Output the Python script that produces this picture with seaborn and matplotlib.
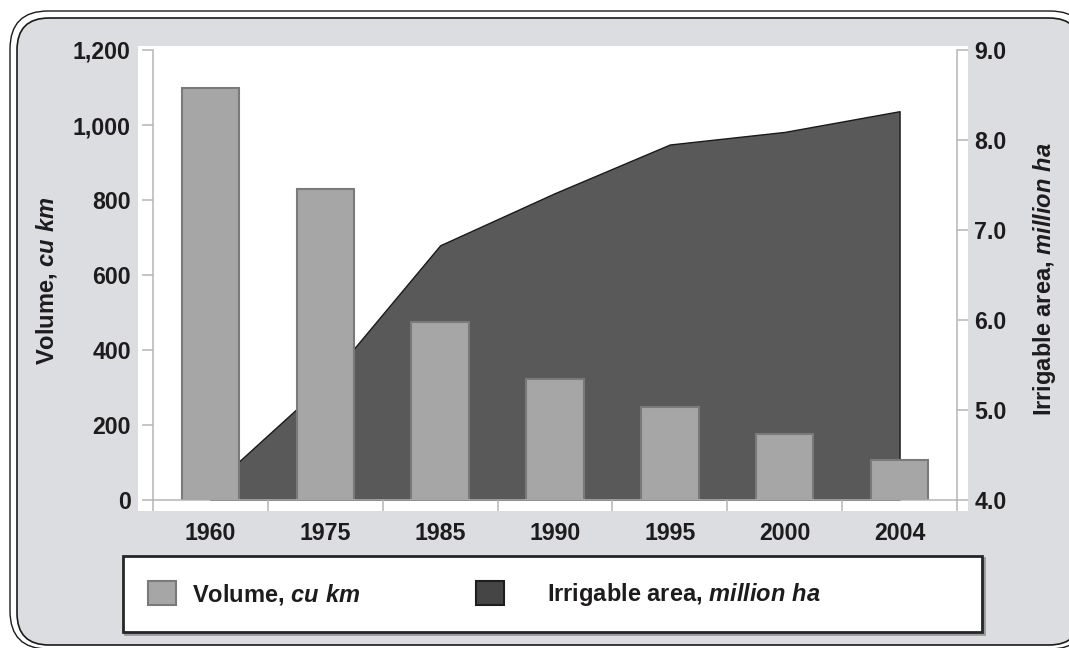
import numpy as np
import pandas as pd
import matplotlib
matplotlib.use("Agg")
import matplotlib.pyplot as plt
import seaborn as sns
from matplotlib.patches import FancyBboxPatch, Rectangle, Patch
from matplotlib.transforms import IdentityTransform
from matplotlib.ticker import FuncFormatter

# ---- data ----
years = ["1960", "1975", "1985", "1990", "1995", "2000", "2004"]
volume_cu_km = [1100, 830, 475, 323, 248, 175, 107]
irrigable_area_mha = [4.14, 5.30, 6.83, 7.41, 7.95, 8.09, 8.32]
left_ticks = [0, 200, 400, 600, 800, 1000, 1200]
right_ticks = [4.0, 5.0, 6.0, 7.0, 8.0, 9.0]
left_label = r"Volume, $\mathit{cu\ km}$"
right_label = r"Irrigable area, $\mathit{million\ ha}$"

# ---- style ----
sns.set_theme(style="white")
plt.rcParams["font.family"] = ["Liberation Sans", "DejaVu Sans"]
plt.rcParams["font.weight"] = "bold"
plt.rcParams["mathtext.fontset"] = "custom"
plt.rcParams["mathtext.it"] = "Liberation Sans:italic:bold"
plt.rcParams["mathtext.rm"] = "Liberation Sans:bold"
plt.rcParams["mathtext.bf"] = "Liberation Sans:bold"

TXT = "#1e1b1c"
GRID = "#b5b5b5"
BAR = "#a6a6a6"
BAR_EDGE = "#7a7a7a"
AREA = "#595959"
BG = "#dcdde0"
FS_TICK = 16.7
FS_LAB = 17

W, H, DPI = 1069, 648, 100
fig = plt.figure(figsize=(W / DPI, H / DPI), dpi=DPI, facecolor="white")

# rounded double frame (pixel coords, origin bottom-left); right side runs off the image
outer = FancyBboxPatch((10, -1), 1078, 638, boxstyle="round,pad=0,rounding_size=38",
                       transform=IdentityTransform(), facecolor="white",
                       edgecolor="#1a1a1a", linewidth=1.0, zorder=-20)
inner = FancyBboxPatch((17, 3), 1064, 627, boxstyle="round,pad=0,rounding_size=32",
                       transform=IdentityTransform(), facecolor=BG,
                       edgecolor="#1a1a1a", linewidth=1.2, zorder=-19)
plotbg = Rectangle((138, H - 511), 830, 465, transform=IdentityTransform(),
                   facecolor="white", edgecolor="none", zorder=-18)
legshadow = Rectangle((125, H - 634), 859, 76, transform=IdentityTransform(),
                      facecolor="none", edgecolor="#9a9a9a", linewidth=2.0, zorder=3)
legbox = Rectangle((123, H - 632), 859, 76, transform=IdentityTransform(),
                   facecolor="white", edgecolor="#262626", linewidth=2.0, zorder=4)
fig.patches.extend([outer, inner, plotbg, legshadow, legbox])

ax = fig.add_axes([153 / W, 1 - 500 / H, (957 - 153) / W, 450 / H])
ax2 = ax.twinx()

df = pd.DataFrame({"year": years, "volume": volume_cu_km, "area": irrigable_area_mha})
xpos = np.arange(len(years))

# area (right axis), drawn behind bars
ax2.fill_between(xpos, 4.0, df["area"], facecolor=AREA, edgecolor="#1a1a1a", linewidth=1.0)
ax2.set_ylim(4.0, 9.0)
ax2.set_yticks(right_ticks)
ax2.yaxis.set_major_formatter(FuncFormatter(lambda v, p: f"{v:.1f}"))

# bars (left axis)
sns.barplot(data=df, x="year", y="volume", ax=ax, color=BAR, edgecolor=BAR_EDGE,
            linewidth=1.5, width=0.5, saturation=1)
ax.set_zorder(ax2.get_zorder() + 1)
ax.patch.set_visible(False)
ax2.patch.set_visible(True)
ax2.set_facecolor("white")

ax.set_xlim(-0.5, len(years) - 0.5)
ax.set_ylim(0, 1200)
ax.set_yticks(left_ticks)
ax.yaxis.set_major_formatter(FuncFormatter(lambda v, p: f"{v:,.0f}"))
ax.set_xticks(xpos)
ax.set_xticklabels(years)
ax.set_xticks(np.arange(-0.5, len(years), 1.0), minor=True)

for s in ["top", "right"]:
    ax.spines[s].set_visible(False)
for s in ["top", "left", "bottom"]:
    ax2.spines[s].set_visible(False)
for sp in [ax.spines["left"], ax.spines["bottom"], ax2.spines["right"]]:
    sp.set_visible(True)
    sp.set_color(GRID)
    sp.set_linewidth(1.1)

ax.tick_params(axis="y", which="major", left=True, direction="out", length=8, width=1.1,
               color=GRID, pad=8, labelsize=FS_TICK, labelcolor=TXT)
ax.tick_params(axis="x", which="major", bottom=True, length=0, pad=16,
               labelsize=FS_TICK, labelcolor=TXT)
ax.tick_params(axis="x", which="minor", bottom=True, direction="out", length=8,
               width=1.1, color=GRID)
ax2.tick_params(axis="y", which="major", right=True, direction="out", length=8, width=1.1,
                color=GRID, pad=4.5, labelsize=FS_TICK, labelcolor=TXT)
for lab in ax.get_xticklabels() + ax.get_yticklabels() + ax2.get_yticklabels():
    lab.set_fontweight("bold")

ax.set_xlabel("")
ax.set_ylabel(left_label, fontsize=FS_LAB, fontweight="bold", color=TXT)
ax.yaxis.set_label_coords(-0.117, 0.487)
ax2.set_ylabel(right_label, fontsize=FS_LAB, fontweight="bold", color=TXT, rotation=90)
ax2.yaxis.set_label_coords(1.092, 0.49)

# legend: two single-entry legends inside one box
h_vol = Patch(facecolor=BAR, edgecolor=BAR_EDGE, linewidth=1.5)
h_area = Patch(facecolor="#454545", edgecolor="#1e1e1e", linewidth=1.5)
common = dict(loc="center left", borderaxespad=0, borderpad=0, frameon=False,
              handlelength=1.19, handleheight=1.19, fontsize=FS_LAB)
leg1 = fig.legend([h_vol], [left_label], bbox_to_anchor=(148 / W, 1 - 594 / H),
                  handletextpad=0.68, **common)
leg2 = fig.legend([h_area], [right_label], bbox_to_anchor=(476 / W, 1 - 594 / H),
                  handletextpad=1.82, **common)
for leg in (leg1, leg2):
    for t in leg.get_texts():
        t.set_color(TXT)
        t.set_fontweight("bold")
    leg.set_zorder(5)

fig.savefig("out.png", dpi=DPI, facecolor="white")
